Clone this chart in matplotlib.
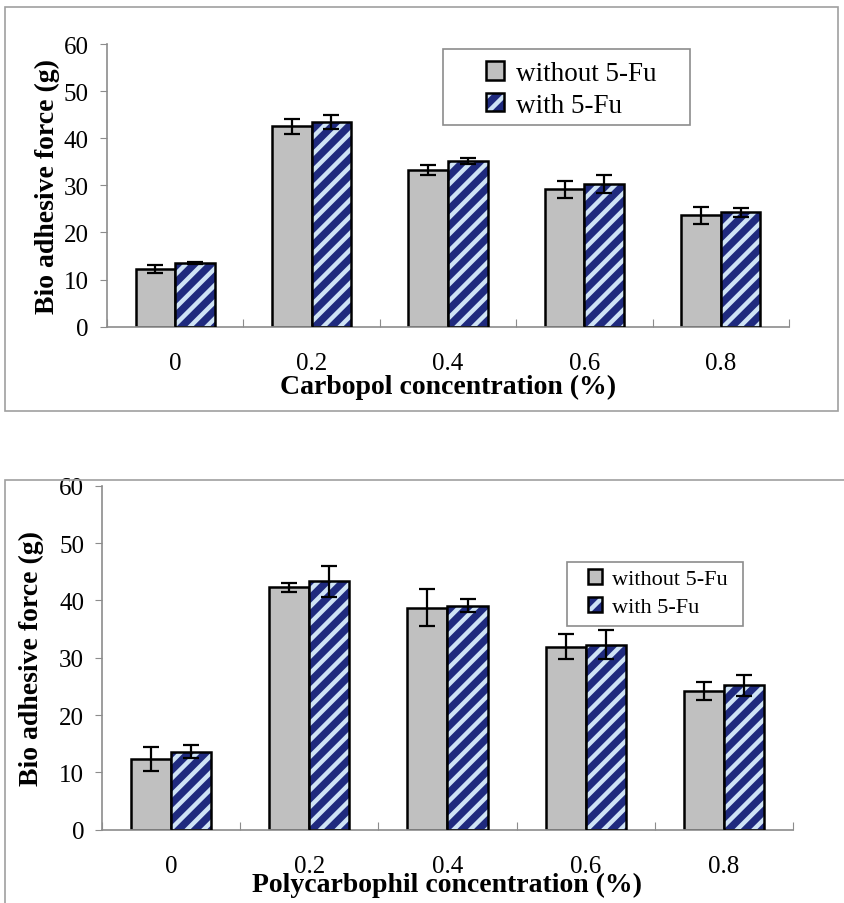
import numpy as np
import matplotlib
matplotlib.use("Agg")
import matplotlib.pyplot as plt
from matplotlib.patches import Rectangle, Patch
from matplotlib.legend_handler import HandlerTuple

# data
conc = ["0", "0.2", "0.4", "0.6", "0.8"]

carb_without = [12.2, 42.5, 33.3, 29.2, 23.7]
carb_without_err = [0.8, 1.5, 1.0, 1.8, 1.8]
carb_with = [13.6, 43.4, 35.2, 30.3, 24.3]
carb_with_err = [0.2, 1.45, 0.7, 2.0, 1.0]

poly_without = [12.3, 42.3, 38.7, 31.9, 24.2]
poly_without_err = [2.1, 0.8, 3.2, 2.2, 1.5]
poly_with = [13.6, 43.3, 39.1, 32.3, 25.2]
poly_with_err = [1.1, 2.7, 1.1, 2.6, 1.8]

plt.rcParams["font.family"] = ["Liberation Serif", "DejaVu Serif"]
plt.rcParams["hatch.linewidth"] = 3.2

GRAY = "#c0c0c0"
NAVY = "#1f2a7e"
STRIPE = "#cfe3f5"
SPINE = "#8c8c8c"


def draw_panel(ax, without, without_err, with_, with_err, xlabel, xlab_y, ylab_x,
               tick_pad, leg_box, leg_anchor, leg_size, leg_space):
    x = np.arange(len(conc)) + 0.5
    w = 0.29
    ax.bar(x - w / 2, without, w, color=GRAY, edgecolor="black", linewidth=1.8, zorder=2)
    # hatched bars: stripes first, black outline on top
    ax.bar(x + w / 2, with_, w, color=NAVY, edgecolor=STRIPE, hatch="//", linewidth=0, zorder=2)
    ax.bar(x + w / 2, with_, w, fill=False, edgecolor="black", linewidth=1.8, zorder=3)
    ax.errorbar(x - w / 2, without, yerr=without_err, fmt="none", ecolor="black",
                elinewidth=1.6, capsize=5.5, capthick=1.6, zorder=4)
    ax.errorbar(x + w / 2, with_, yerr=with_err, fmt="none", ecolor="black",
                elinewidth=1.6, capsize=5.5, capthick=1.6, zorder=4)

    ax.set_xlim(0, len(conc))
    ax.set_ylim(0, 60)
    ax.set_yticks(range(0, 61, 10))
    ax.set_xticks(np.arange(len(conc) + 1), minor=False)
    ax.set_xticklabels([])
    ax.set_xticks(x, minor=True)
    ax.set_xticklabels(conc, minor=True, fontsize=18)
    ax.tick_params(axis="x", which="major", direction="in", length=6, color=SPINE)
    ax.tick_params(axis="x", which="minor", length=0, pad=tick_pad)
    ax.tick_params(axis="y", direction="out", length=5, color=SPINE, labelsize=18, pad=8)

    for s in ["top", "right"]:
        ax.spines[s].set_visible(False)
    for s in ["left", "bottom"]:
        ax.spines[s].set_color(SPINE)
        ax.spines[s].set_linewidth(1.2)

    ax.set_xlabel(xlabel, fontsize=20, fontweight="bold")
    ax.xaxis.label.set_va("center")
    ax.xaxis.set_label_coords(0.5, xlab_y)
    ax.set_ylabel("Bio adhesive force (g)", fontsize=20, fontweight="bold")
    ax.yaxis.label.set_va("center")
    ax.yaxis.set_label_coords(ylab_x, 0.5)

    # legend frame drawn separately so its size matches
    ax.add_patch(Rectangle((leg_box[0], leg_box[1]), leg_box[2], leg_box[3],
                           transform=ax.transAxes, fill=False, edgecolor=SPINE,
                           linewidth=1.2, clip_on=False, zorder=5))
    h_without = Patch(facecolor=GRAY, edgecolor="black", linewidth=1.8)
    h_with = (Patch(facecolor=NAVY, edgecolor=STRIPE, hatch="//", linewidth=0),
              Patch(fill=False, edgecolor="black", linewidth=1.8))
    ax.legend([h_without, h_with], ["without 5-Fu", "with 5-Fu"], loc="upper left",
              bbox_to_anchor=leg_anchor, frameon=False, fontsize=leg_size,
              handlelength=0.65, handleheight=0.65, handletextpad=0.45,
              borderpad=0, borderaxespad=0, labelspacing=leg_space,
              handler_map={tuple: HandlerTuple(ndivide=1, pad=0)})
    return ax


fig = plt.figure(figsize=(8.44, 9.04), dpi=100)

# panel frames
fig.patches.append(Rectangle((0.006, 0.544), 0.987, 0.447, transform=fig.transFigure,
                             fill=False, edgecolor="#a0a0a0", linewidth=1.2))
fig.patches.append(Rectangle((0.006, -0.02), 1.05, 0.488, transform=fig.transFigure,
                             fill=False, edgecolor="#a0a0a0", linewidth=1.2))

ax1 = fig.add_axes([0.1268, 0.6375, 0.808, 0.3127])
draw_panel(ax1, carb_without, carb_without_err, carb_with, carb_with_err,
           "Carbopol concentration (%)", -0.212, -0.088, 18,
           (0.493, 0.713, 0.362, 0.269), (0.556, 0.94), 19.5, 0.25)

ax2 = fig.add_axes([0.1212, 0.0811, 0.818, 0.3805])
draw_panel(ax2, poly_without, poly_without_err, poly_with, poly_with_err,
           "Polycarbophil concentration (%)", -0.158, -0.102, 18,
           (0.673, 0.592, 0.255, 0.186), (0.703, 0.758), 16, 0.35)

fig.savefig("out.png", dpi=100)
